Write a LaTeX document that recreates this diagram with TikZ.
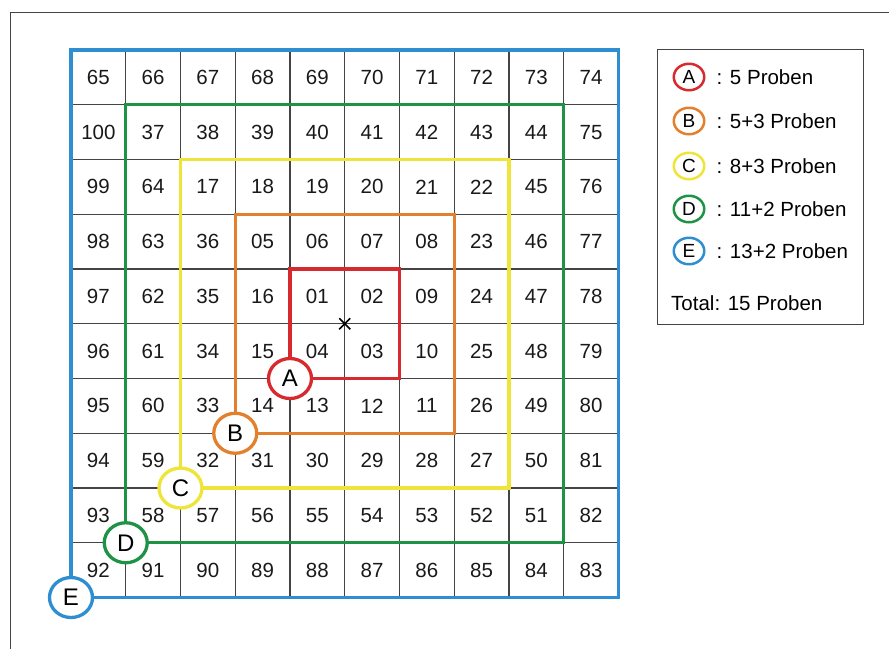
\documentclass[tikz,border=0pt]{standalone}
\usepackage{fontspec}
\setmainfont{Liberation Sans}
\usetikzlibrary{shapes.geometric}
\definecolor{zoneRed}{HTML}{D62A2E}
\definecolor{zoneOrange}{HTML}{E3802E}
\definecolor{zoneYellow}{HTML}{EFE53A}
\definecolor{zoneGreen}{HTML}{1E9346}
\definecolor{zoneBlue}{HTML}{2F8ECF}
\definecolor{gridGrey}{HTML}{444444}
\newcommand{\cellsz}{54.75}
\tikzset{
  gridline/.style={draw=gridGrey, line width=1.2pt},
  framepart/.style={draw=gridGrey, line width=1pt},
  cellnum/.style={font=\fontsize{20.5}{24}\selectfont, inner sep=0pt, text=black!90},
  zoneline/.style={draw=#1, line width=3.3pt},
  zonetag/.style={ellipse, draw=#1, fill=white, line width=3.3pt, minimum width=43pt, minimum height=40pt, inner sep=0pt, font=\fontsize{24}{28}\selectfont},
  legendtag/.style={ellipse, draw=#1, fill=white, line width=2.5pt, minimum width=30.5pt, minimum height=26.5pt, inner sep=0pt, font=\fontsize{19}{22}\selectfont},
  legendtext/.style={anchor=west, font=\fontsize{20.5}{24}\selectfont, inner sep=0pt},
}

\begin{document}
\begin{tikzpicture}[x=1pt,y=-1pt]
  \useasboundingbox (0,0) rectangle (889,649);
  % outer frame (only top and left visible)
  \draw[framepart] (10,649) -- (10,12) -- (889,12);

  % grid 10 x 10
  \foreach \k in {0,...,10} {
    \draw[gridline] ({71+\k*\cellsz},50) -- ({71+\k*\cellsz},598);
    \draw[gridline] (71,{50+\k*\cellsz}) -- (618,{50+\k*\cellsz});
  }

  % spiral numbering
  \foreach \row [count=\r from 0] in {
      {65,66,67,68,69,70,71,72,73,74},
      {100,37,38,39,40,41,42,43,44,75},
      {99,64,17,18,19,20,21,22,45,76},
      {98,63,36,05,06,07,08,23,46,77},
      {97,62,35,16,01,02,09,24,47,78},
      {96,61,34,15,04,03,10,25,48,79},
      {95,60,33,14,13,12,11,26,49,80},
      {94,59,32,31,30,29,28,27,50,81},
      {93,58,57,56,55,54,53,52,51,82},
      {92,91,90,89,88,87,86,85,84,83}} {
    \foreach \num [count=\c from 0] in \row {
      \node[cellnum] (c\num) at ({71+(\c+0.5)*\cellsz},{50+(\r+0.5)*\cellsz}) {\num};
    }
  }

  % centre mark
  \coordinate (mid) at ({71+5*\cellsz},{50+5*\cellsz});
  \draw[line width=1.6pt] ([shift={(-5.5,-5.5)}]mid) -- ([shift={(5.5,5.5)}]mid)
                          ([shift={(-5.5,5.5)}]mid) -- ([shift={(5.5,-5.5)}]mid);

  % sampling zones
  \foreach \k/\col/\lab in {1/zoneRed/A, 2/zoneOrange/B, 3/zoneYellow/C, 4/zoneGreen/D, 5/zoneBlue/E} {
    \draw[zoneline=\col] ([shift={({-\k*\cellsz},{-\k*\cellsz})}]mid) rectangle ([shift={({\k*\cellsz},{\k*\cellsz})}]mid);
    \node[zonetag=\col] (tag\lab) at ([shift={({-\k*\cellsz},{\k*\cellsz})}]mid) {\lab};
  }

  % legend
  \draw[framepart] (657,49) rectangle (863,324);
  \foreach \lab/\col/\yy/\txt in {A/zoneRed/77/{: 5 Proben}, B/zoneOrange/121/{: 5+3 Proben}, C/zoneYellow/166/{: 8+3 Proben}, D/zoneGreen/209/{: 11+2 Proben}, E/zoneBlue/251/{: 13+2 Proben}} {
    \node[legendtag=\col] (leg\lab) at (689,\yy) {\lab};
    \node[legendtext] (txt\lab) at (716.5,\yy) {\txt};
  }
  \node[legendtext] (total) at (671,303) {Total: 15 Proben};
\end{tikzpicture}
\end{document}
